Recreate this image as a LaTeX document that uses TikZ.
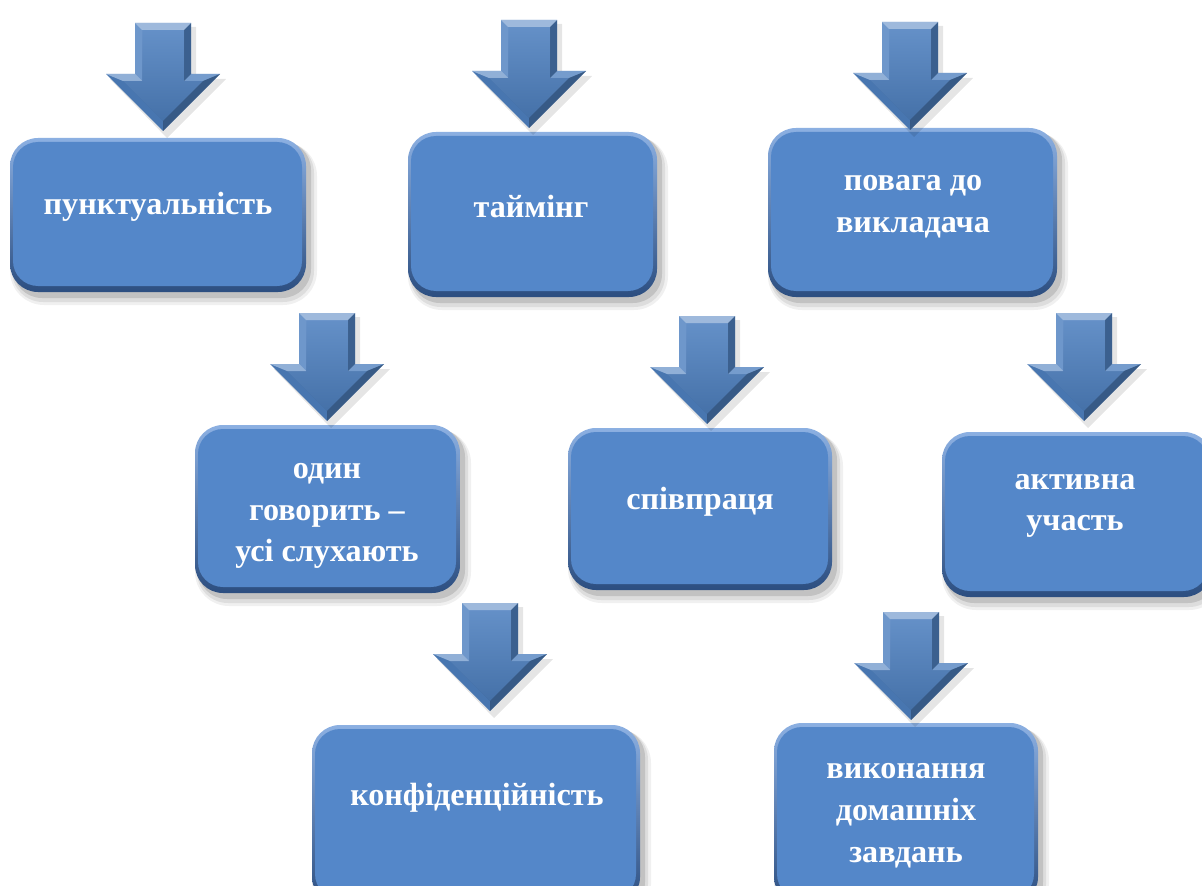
\documentclass[tikz,border=0pt]{standalone}
\usepackage{fontspec}
\setmainfont{Liberation Serif}
\newlength\pxu
\setlength\pxu{0.02cm}
\definecolor{boxmain}{RGB}{84,135,201}
\definecolor{rimtop}{RGB}{140,176,226}
\definecolor{rimbot}{RGB}{44,78,128}
\definecolor{arrmain}{RGB}{79,129,192}
\tikzset{
  lbl/.style={text=white,font=\bfseries\fontsize{18.3pt}{23.8pt}\selectfont,align=center,inner sep=0pt},
}
\newcommand\bevbox[4]{%
  \fill[black,opacity=0.06,rounded corners=34\pxu] (#1,#2+4) rectangle (#3+11,#4+13);
  \fill[black,opacity=0.08,rounded corners=31\pxu] (#1+2,#2+4) rectangle (#3+8,#4+10);
  \fill[black,opacity=0.12,rounded corners=29\pxu] (#1+3,#2+3) rectangle (#3+5,#4+6);
  \shade[top color=rimtop,bottom color=rimbot,rounded corners=28\pxu] (#1,#2) rectangle (#3,#4);
  \fill[boxmain,rounded corners=25\pxu] (#1+3,#2+4) rectangle (#3-4,#4-6);
}
\newcommand\bigarrow[2]{%
  \begin{scope}[shift={(#1,#2)}]
    \fill[black,opacity=0.10] (-25,4) -- (33,4) -- (33,56) -- (63,56) -- (4,115) -- (-53,56) -- (-25,56) -- cycle;
    \fill[arrmain] (-28,0) -- (28,0) -- (28,51) -- (57,51) -- (0,108) -- (-57,51) -- (-28,51) -- cycle;
    \fill[white,opacity=0.45] (-28,0) -- (28,0) -- (21,7) -- (-21,7) -- cycle;
    \fill[black,opacity=0.25] (28,0) -- (28,51) -- (21,58) -- (21,7) -- cycle;
    \fill[white,opacity=0.22] (28,51) -- (57,51) -- (40,58) -- (21,58) -- cycle;
    \fill[black,opacity=0.30] (57,51) -- (0,108) -- (0,98) -- (40,58) -- cycle;
    \fill[black,opacity=0.08] (0,108) -- (-57,51) -- (-40,58) -- (0,98) -- cycle;
    \fill[white,opacity=0.38] (-57,51) -- (-28,51) -- (-21,58) -- (-40,58) -- cycle;
    \fill[white,opacity=0.18] (-28,51) -- (-28,0) -- (-21,7) -- (-21,58) -- cycle;
    \shade[top color=white,bottom color=black,opacity=0.12] (-21,7) -- (21,7) -- (21,58) -- (40,58) -- (0,98) -- (-40,58) -- (-21,58) -- cycle;
  \end{scope}
}
\begin{document}
\begin{tikzpicture}[x=0.02cm,y=-0.02cm]
\useasboundingbox (0,0) rectangle (1202,885);
\clip (0,0) rectangle (1202,885);
\fill[white] (0,0) rectangle (1202,885);

\bevbox{10}{138}{306}{292}
\bevbox{408}{132}{657}{297}
\bevbox{768}{128}{1057}{297}
\bevbox{195}{425}{460}{593}
\bevbox{568}{428}{832}{590}
\bevbox{942}{432}{1212}{597}
\bevbox{312}{725}{640}{905}
\bevbox{774}{723}{1038}{905}

\bigarrow{163}{23}
\bigarrow{529}{20}
\bigarrow{910}{22}
\bigarrow{327}{313}
\bigarrow{707}{316}
\bigarrow{1084}{313}
\bigarrow{490}{603}
\bigarrow{911}{612}

\node[lbl] (t1) at (158,207) {пунктуальність};
\node[lbl] (t2) at (531,207) {таймінг};
\node[lbl] (t3) at (913,207) {повага до\\викладача};
\node[lbl] (t4) at (327,516) {один\\говорить –\\усі слухають};
\node[lbl] (t5) at (700,502) {співпраця};
\node[lbl] (t6) at (1075,506) {активна\\участь};
\node[lbl] (t7) at (477,798) {конфіденційність};
\node[lbl] (t8) at (906,816) {виконання\\домашніх\\завдань};
\end{tikzpicture}
\end{document}
